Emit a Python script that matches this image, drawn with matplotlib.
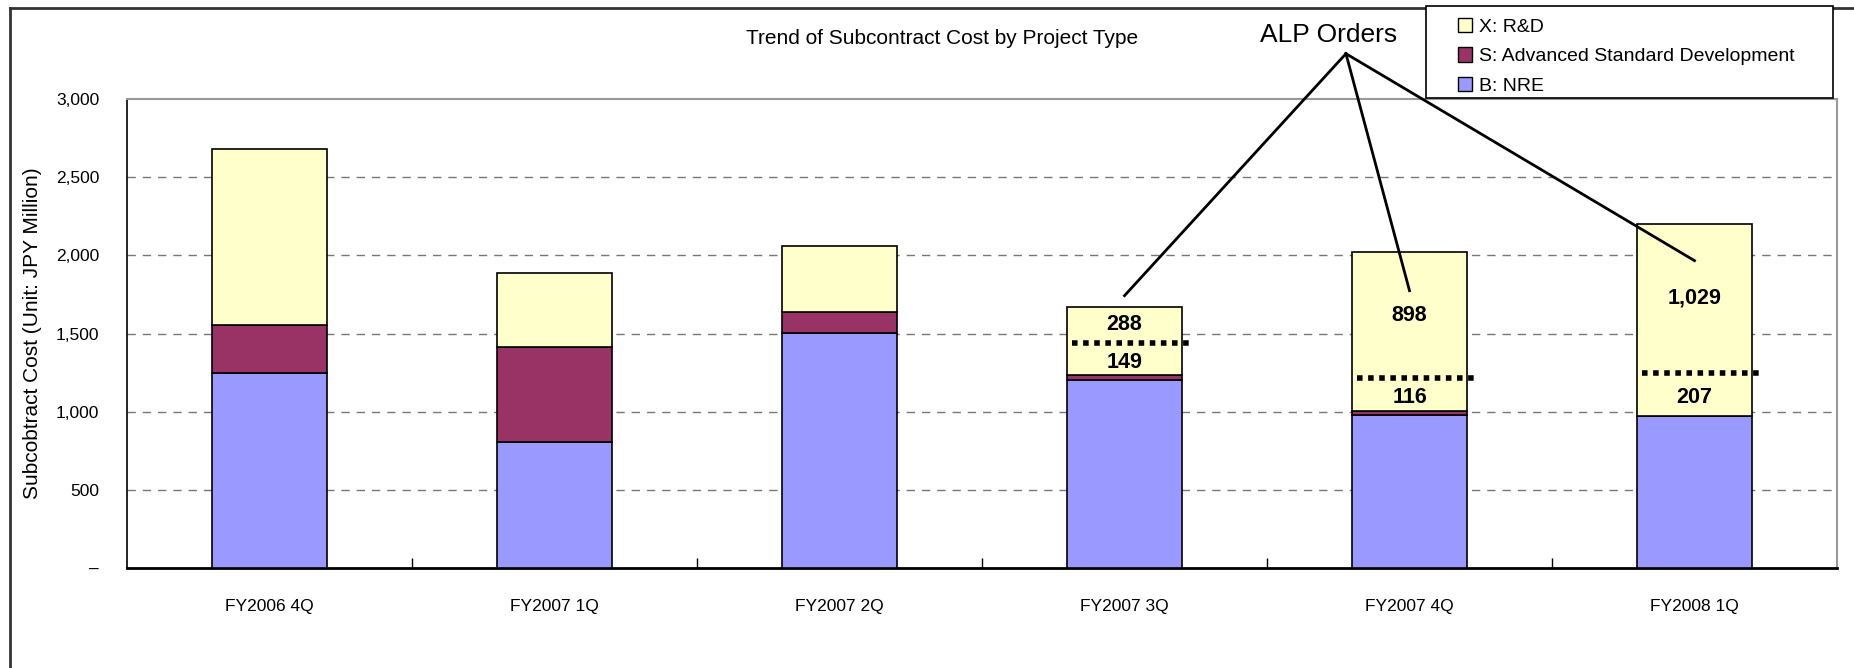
import matplotlib.pyplot as plt
from matplotlib.patches import Patch, Rectangle
from matplotlib.lines import Line2D

plt.rcParams['font.family'] = ['Liberation Sans', 'DejaVu Sans']

# data
quarters = ['FY2006 4Q', 'FY2007 1Q', 'FY2007 2Q', 'FY2007 3Q', 'FY2007 4Q', 'FY2008 1Q']
nre = [1247, 809, 1503, 1202, 976, 970]
adv_std = [309, 604, 136, 32, 26, 0]
rnd = [1124, 475, 423, 437, 1017, 1232]

# ALP split inside R&D (upper = ALP orders, lower = rest)
alp_bars = [3, 4, 5]
alp_upper = [288, 898, 1029]
alp_lower = [149, 116, 207]
split_level = [1440, 1215, 1249]

yticks = [0, 500, 1000, 1500, 2000, 2500, 3000]
ytick_labels = ['\u2013', '500', '1,000', '1,500', '2,000', '2,500', '3,000']

c_x = '#FFFFCC'
c_s = '#993366'
c_b = '#9999FF'

fig = plt.figure(figsize=(18.54, 6.68), dpi=100)
ax = fig.add_axes([127 / 1854, 1 - 568 / 668, (1837 - 127) / 1854, (568 - 99) / 668])

x = list(range(len(quarters)))
w = 0.405
ax.bar(x, nre, w, color=c_b, edgecolor='black', linewidth=1.2, zorder=3)
ax.bar(x, adv_std, w, bottom=nre, color=c_s, edgecolor='black', linewidth=1.2, zorder=3)
bottom_x = [a + b for a, b in zip(nre, adv_std)]
ax.bar(x, rnd, w, bottom=bottom_x, color=c_x, edgecolor='black', linewidth=1.2, zorder=3)

# dotted split lines and labels
for i, b in enumerate(alp_bars):
    lvl = split_level[i]
    ax.plot([b - w / 2 + 0.02, b + w / 2 + 0.03], [lvl, lvl], color='black',
            linestyle=(0, (1, 1)), linewidth=4, zorder=4, clip_on=False)
    top = bottom_x[b] + rnd[b]
    ax.text(b, (lvl + top) / 2, f'{alp_upper[i]:,}', ha='center', va='center',
            fontsize=15.5, fontweight='bold', zorder=5)
    ax.text(b, (bottom_x[b] + lvl) / 2 - 20, f'{alp_lower[i]:,}', ha='center', va='center',
            fontsize=15.5, fontweight='bold', zorder=5)

# ALP Orders callout
origin = (3.777, 3290)
targets = [(3.0, 1742), (4.0, 1774), (5.0, 1966)]
for tx, ty in targets:
    ax.plot([origin[0], tx], [origin[1], ty], color='black', linewidth=2, zorder=6, clip_on=False)
ax.text(origin[0] - 0.06, 3330, 'ALP Orders', ha='center', va='bottom', fontsize=19)

ax.set_xlim(-0.5, 5.5)
ax.set_ylim(0, 3000)
ax.set_yticks(yticks)
ax.set_yticklabels(ytick_labels, fontsize=12.5)
ax.tick_params(axis='y', length=0, pad=20)
ax.set_xticks(x)
ax.set_xticklabels(quarters, fontsize=12.5)
ax.tick_params(axis='x', which='major', length=0, pad=22)
ax.set_xticks([0.5, 1.5, 2.5, 3.5, 4.5], minor=True)
ax.tick_params(axis='x', which='minor', direction='in', length=7, color='black', width=1)

for v in yticks[1:-1]:
    ax.axhline(v, color='#777777', linestyle=(0, (6, 5)), linewidth=1, zorder=1)

ax.spines['left'].set_color('black')
ax.spines['left'].set_linewidth(1.2)
ax.spines['bottom'].set_color('black')
ax.spines['bottom'].set_linewidth(2)
ax.spines['top'].set_color('#999999')
ax.spines['top'].set_linewidth(1.5)
ax.spines['right'].set_color('#999999')
ax.spines['right'].set_linewidth(1.5)

ax.set_ylabel('Subcobtract Cost (Unit: JPY Million)', fontsize=15)
ax.yaxis.set_label_coords(-0.0495, 0.5)

fig.text(942 / 1854, 1 - 39 / 668, 'Trend of Subcontract Cost by Project Type',
         ha='center', va='center', fontsize=15)

# legend box + entries
fig.add_artist(Rectangle((1426 / 1854, 1 - 98 / 668), (1833 - 1426) / 1854, 92 / 668,
                         transform=fig.transFigure, facecolor='white', edgecolor='black',
                         linewidth=1.2, zorder=7))
handles = [Patch(facecolor=c_x, edgecolor='black'),
           Patch(facecolor=c_s, edgecolor='black'),
           Patch(facecolor=c_b, edgecolor='black')]
leg = fig.legend(handles, ['X: R&D', 'S: Advanced Standard Development', 'B: NRE'],
                 loc='upper left', bbox_to_anchor=(1453 / 1854, 1 - 13 / 668),
                 fontsize=14, frameon=False, handlelength=0.75, handleheight=0.75,
                 handletextpad=0.35, borderaxespad=0, labelspacing=0.6, borderpad=0.25)
leg.set_zorder(8)

# outer frame
fig.add_artist(Line2D([10 / 1854, 10 / 1854], [0, 1 - 8 / 668], color='#333333', linewidth=2))
fig.add_artist(Line2D([10 / 1854, 1], [1 - 8 / 668, 1 - 8 / 668], color='#333333', linewidth=2))

fig.savefig('out.png', dpi=100)
